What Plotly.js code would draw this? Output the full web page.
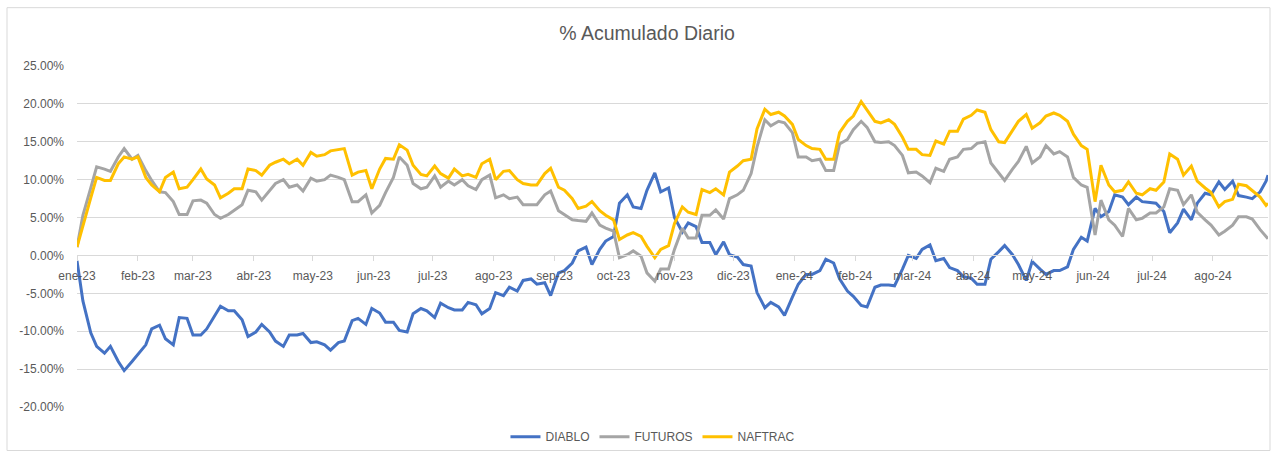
<!DOCTYPE html>
<html>
<head>
<meta charset="utf-8">
<script src="https://cdn.plot.ly/plotly-3.0.1.min.js"></script>
<style>
  html, body { margin: 0; padding: 0; background: #ffffff; }
  #chart { width: 1277px; height: 460px; }
</style>
</head>
<body>
<div id="chart"></div>
<script>
const dates = [
'2023-01-02','2023-01-05','2023-01-09','2023-01-12','2023-01-16','2023-01-19','2023-01-23','2023-01-26','2023-01-30',
'2023-02-02','2023-02-06','2023-02-09','2023-02-13','2023-02-16','2023-02-20','2023-02-23','2023-02-27',
'2023-03-02','2023-03-06','2023-03-09','2023-03-13','2023-03-16','2023-03-20','2023-03-23','2023-03-27','2023-03-30',
'2023-04-03','2023-04-06','2023-04-10','2023-04-13','2023-04-17','2023-04-20','2023-04-24','2023-04-27',
'2023-05-01','2023-05-04','2023-05-08','2023-05-11','2023-05-15','2023-05-18','2023-05-22','2023-05-25','2023-05-29',
'2023-06-01','2023-06-05','2023-06-08','2023-06-12','2023-06-15','2023-06-19','2023-06-22','2023-06-26','2023-06-29',
'2023-07-03','2023-07-06','2023-07-10','2023-07-13','2023-07-17','2023-07-20','2023-07-24','2023-07-27','2023-07-31',
'2023-08-03','2023-08-07','2023-08-10','2023-08-14','2023-08-17','2023-08-21','2023-08-24','2023-08-28','2023-08-31',
'2023-09-04','2023-09-07','2023-09-11','2023-09-14','2023-09-18','2023-09-21','2023-09-25','2023-09-28',
'2023-10-02','2023-10-05','2023-10-09','2023-10-12','2023-10-16','2023-10-19','2023-10-23','2023-10-26','2023-10-30',
'2023-11-02','2023-11-06','2023-11-09','2023-11-13','2023-11-16','2023-11-20','2023-11-23','2023-11-27','2023-11-30',
'2023-12-04','2023-12-07','2023-12-11','2023-12-14','2023-12-18','2023-12-21','2023-12-25','2023-12-28',
'2024-01-01','2024-01-04','2024-01-08','2024-01-11','2024-01-15','2024-01-18','2024-01-22','2024-01-25','2024-01-29',
'2024-02-01','2024-02-05','2024-02-08','2024-02-12','2024-02-15','2024-02-19','2024-02-22','2024-02-26','2024-02-29',
'2024-03-04','2024-03-07','2024-03-11','2024-03-14','2024-03-18','2024-03-21','2024-03-25','2024-03-28',
'2024-04-01','2024-04-04','2024-04-08','2024-04-11','2024-04-15','2024-04-18','2024-04-22','2024-04-25','2024-04-29',
'2024-05-02','2024-05-06','2024-05-09','2024-05-13','2024-05-16','2024-05-20','2024-05-23','2024-05-27','2024-05-30',
'2024-06-03','2024-06-06','2024-06-10','2024-06-13','2024-06-17','2024-06-20','2024-06-24','2024-06-27',
'2024-07-01','2024-07-04','2024-07-08','2024-07-11','2024-07-15','2024-07-18','2024-07-22','2024-07-25','2024-07-29',
'2024-08-01','2024-08-05','2024-08-08','2024-08-12','2024-08-15','2024-08-19','2024-08-22','2024-08-26','2024-08-29','2024-08-30'
];

const diablo = [
-0.7,-6.0,-10.2,-12.0,-12.9,-12.0,-14.0,-15.2,-14.0,
-13.0,-11.8,-9.7,-9.2,-11.0,-11.8,-8.2,-8.3,
-10.5,-10.5,-9.7,-8.0,-6.7,-7.3,-7.3,-8.5,-10.7,
-10.1,-9.1,-10.1,-11.3,-12.0,-10.5,-10.5,-10.3,
-11.5,-11.4,-11.8,-12.5,-11.5,-11.3,-8.6,-8.3,-9.1,
-7.0,-7.6,-8.8,-8.8,-9.9,-10.1,-7.7,-7.0,-7.3,
-8.2,-6.3,-6.9,-7.2,-7.2,-6.2,-6.5,-7.7,-7.0,
-4.9,-5.3,-4.2,-4.7,-3.3,-3.1,-3.8,-3.6,-5.3,
-2.3,-2.0,-1.0,0.6,1.1,-1.2,0.8,1.9,
2.5,6.9,8.0,6.4,6.2,8.6,10.9,8.4,8.9,
5.0,3.1,4.3,3.8,1.7,1.7,0.1,1.8,0.1,
-0.2,-1.2,-1.4,-4.9,-6.9,-6.2,-6.8,-7.9,
-5.5,-3.8,-2.5,-2.5,-2.0,-0.5,-1.0,-3.1,-4.7,
-5.4,-6.6,-6.8,-4.2,-3.9,-3.9,-4.0,-1.8,0.0,
-0.4,0.8,1.4,-0.7,-0.4,-1.6,-2.0,-2.8,
-3.0,-3.8,-3.8,-0.5,0.5,1.3,0.1,-1.2,-3.3,
-0.8,-1.8,-2.5,-2.0,-2.0,-1.5,0.8,2.4,1.9,
6.2,5.1,5.8,8.0,7.7,6.7,7.7,7.1,
7.0,6.9,5.8,3.0,4.3,6.1,4.7,6.9,8.2,
8.0,9.7,8.7,9.8,7.9,7.7,7.5,8.4,9.8,10.6
];

const futuros = [
1.1,5.3,8.9,11.7,11.4,11.1,13.0,14.1,12.7,
13.2,11.2,9.9,8.4,8.3,7.1,5.4,5.4,
7.2,7.3,6.9,5.4,4.9,5.4,6.0,6.7,8.6,
8.4,7.3,8.6,9.5,10.0,9.0,9.3,8.5,
10.2,9.8,10.0,10.6,10.3,10.0,7.1,7.1,8.0,
5.6,6.6,8.3,10.3,13.0,11.9,9.5,8.8,9.0,
10.5,9.0,9.8,9.3,10.0,9.2,8.7,10.0,10.6,
7.6,8.0,7.5,7.7,6.7,6.7,6.7,8.0,8.5,
5.9,5.4,4.7,4.6,4.5,5.6,4.0,3.6,
3.2,-0.3,0.1,0.6,-0.1,-2.3,-3.4,-1.8,-1.8,
0.8,3.6,2.3,2.3,5.3,5.3,6.0,4.8,7.5,
8.0,8.6,10.8,14.3,17.9,17.1,17.7,17.5,
16.2,13.0,13.0,12.5,12.7,11.2,11.2,14.7,15.3,
16.6,17.7,16.9,15.0,14.9,15.0,14.5,13.2,10.9,
11.0,10.5,9.6,11.5,11.1,12.7,13.0,14.0,
14.1,14.8,15.0,12.2,10.8,9.9,11.4,12.4,14.4,
12.2,13.0,14.5,13.4,13.7,13.0,10.3,9.3,9.0,
2.7,7.3,4.7,4.0,2.5,6.2,4.7,4.9,
5.6,5.6,6.4,8.8,8.6,6.7,8.0,5.7,4.7,
4.0,2.7,3.2,4.0,5.1,5.1,4.8,3.4,2.5,2.2
];

const naftrac = [
1.1,4.0,7.6,10.3,9.9,9.9,12.1,13.0,12.7,
13.0,10.3,9.3,8.4,10.3,11.0,8.8,9.0,
10.0,11.4,10.1,9.3,7.6,8.2,8.8,8.8,11.4,
11.2,10.6,11.9,12.3,12.7,12.1,12.7,11.9,
13.6,13.1,13.3,13.8,14.0,14.1,10.6,11.0,11.2,
8.8,11.4,12.8,12.7,14.6,13.9,11.9,10.7,10.5,
11.8,10.8,10.2,11.4,10.5,10.7,10.3,12.1,12.7,
10.0,11.1,11.2,10.0,9.5,9.3,9.3,10.8,11.5,
9.0,8.6,7.5,6.2,6.5,7.1,5.9,5.3,
4.7,2.1,2.7,3.0,2.5,1.2,-0.3,0.8,1.3,
4.2,6.4,5.7,5.4,8.7,8.3,8.8,8.0,11.0,
11.8,12.5,12.7,16.7,19.3,18.6,18.9,18.4,
17.3,15.3,14.5,14.1,14.0,12.7,12.7,16.2,17.7,
18.4,20.3,19.2,17.7,17.5,17.9,17.3,15.6,14.0,
14.0,13.3,13.2,15.1,14.7,16.4,16.4,18.0,
18.5,19.2,18.9,16.6,15.0,14.9,16.6,17.7,18.6,
16.8,17.5,18.4,18.8,18.5,17.7,16.0,14.5,14.0,
7.1,11.9,9.3,8.4,8.6,9.7,8.2,8.0,
8.8,8.6,9.7,13.4,12.7,10.6,11.8,9.8,8.9,
8.3,6.4,7.1,7.4,9.4,9.2,8.6,7.7,6.6,6.9
];

const monthTicks = ['2023-01-02','2023-02-02','2023-03-02','2023-04-02','2023-05-02','2023-06-02','2023-07-02','2023-08-02','2023-09-02','2023-10-02','2023-11-02','2023-12-02','2024-01-02','2024-02-02','2024-03-02','2024-04-02','2024-05-02','2024-06-02','2024-07-02','2024-08-02'];
const monthLabels = ['ene-23','feb-23','mar-23','abr-23','may-23','jun-23','jul-23','ago-23','sep-23','oct-23','nov-23','dic-23','ene-24','feb-24','mar-24','abr-24','may-24','jun-24','jul-24','ago-24'];
const yTicks = [-20,-15,-10,-5,0,5,10,15,20,25];
const yLabels = ['-20.00%','-15.00%','-10.00%','-5.00%','0.00%','5.00%','10.00%','15.00%','20.00%','25.00%'];

const FONT = '"Liberation Sans", Arial, sans-serif';
const TXT = '#595959';

const traces = [
  {name:'DIABLO', x:dates, y:diablo, type:'scatter', mode:'lines', line:{color:'#4472C4', width:3}},
  {name:'FUTUROS', x:dates, y:futuros, type:'scatter', mode:'lines', line:{color:'#A5A5A5', width:3}},
  {name:'NAFTRAC', x:dates, y:naftrac, type:'scatter', mode:'lines', line:{color:'#FFC000', width:3}}
];

const layout = {
  width:1277, height:460,
  margin:{l:77, r:9, t:66, b:49},
  paper_bgcolor:'#ffffff', plot_bgcolor:'#ffffff',
  font:{family:FONT, size:12, color:TXT},
  title:{text:'% Acumulado Diario', font:{family:FONT, size:19.5, color:TXT}, xref:'container', x:0.5067, xanchor:'center', yref:'container', y:0.928, yanchor:'middle'},
  showlegend:true,
  legend:{orientation:'h', x:0.4836, xanchor:'center', y:-0.087, yanchor:'middle', font:{family:FONT, size:12, color:TXT}, bgcolor:'rgba(0,0,0,0)', itemwidth:30, tracegroupgap:0},
  xaxis:{
    type:'date', range:['2023-01-02','2024-08-30'],
    anchor:'free', position:20/45,
    tickmode:'array', tickvals:monthTicks, ticktext:monthLabels,
    showgrid:false, zeroline:false,
    showline:true, linecolor:'#d9d9d9', linewidth:1,
    ticks:'outside', ticklen:5, tickcolor:'#d9d9d9', tickwidth:1,
    ticklabelstandoff:4,
    tickfont:{family:FONT, size:12, color:TXT}
  },
  yaxis:{
    range:[-20,25], tickmode:'array', tickvals:yTicks, ticktext:yLabels,
    showgrid:true, gridcolor:'#d9d9d9', gridwidth:1,
    zeroline:false, showline:false, ticks:'',
    ticklabelstandoff:12,
    tickfont:{family:FONT, size:12, color:TXT}
  },
  shapes:[
    {type:'rect', xref:'paper', yref:'paper', x0:(7-77)/1191, x1:(1270-77)/1191, y0:(411-455)/345, y1:(411-7)/345, line:{color:'#d9d9d9', width:1}, fillcolor:'rgba(0,0,0,0)', layer:'below'}
  ]
};

Plotly.newPlot('chart', traces, layout, {displayModeBar:false, staticPlot:true});
</script>
</body>
</html>
